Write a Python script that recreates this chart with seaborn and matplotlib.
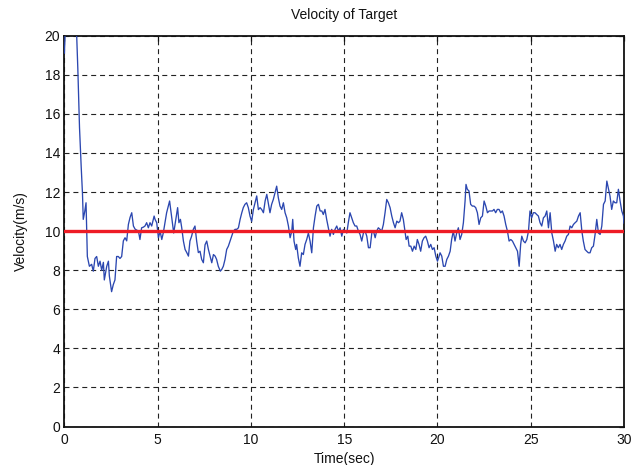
import numpy as np
import pandas as pd
import matplotlib
matplotlib.use("Agg")
import matplotlib.pyplot as plt
import seaborn as sns

# ---- data ----
time = [0.00, 0.09, 0.18, 0.27, 0.36, 0.45, 0.54, 0.63, 0.72, 0.81, 0.90, 0.97, 1.01, 1.09, 1.16, 1.23,
        1.34, 1.46, 1.55, 1.64, 1.73, 1.82, 1.91, 2.00, 2.09, 2.14, 2.27, 2.36, 2.41, 2.53, 2.62, 2.71,
        2.80, 2.89, 2.98, 3.07, 3.16, 3.25, 3.34, 3.43, 3.52, 3.61, 3.70, 3.79, 3.88, 3.97, 4.05, 4.14,
        4.23, 4.32, 4.41, 4.50, 4.59, 4.68, 4.81, 4.86,
        4.95, 5.04, 5.13, 5.22, 5.30, 5.39, 5.48, 5.57, 5.64, 5.72, 5.79, 5.86, 5.93, 6.00, 6.07, 6.14,
        6.22, 6.29, 6.38, 6.47, 6.56, 6.65, 6.73, 6.82, 6.91, 7.00, 7.09, 7.18, 7.27, 7.36, 7.45, 7.54,
        7.63, 7.72, 7.81, 7.90, 7.99, 8.08, 8.16, 8.25, 8.36, 8.43, 8.52, 8.61, 8.70, 8.79, 8.88, 8.97,
        9.06, 9.15, 9.24, 9.33, 9.42, 9.51, 9.59, 9.68, 9.77, 9.86, 9.95,
        10.04, 10.13, 10.22, 10.31, 10.40, 10.49, 10.58, 10.67, 10.76, 10.85, 10.93, 11.02, 11.11, 11.20,
        11.29, 11.38, 11.47, 11.56, 11.65, 11.74, 11.83, 11.92, 12.01, 12.10, 12.19, 12.24, 12.31, 12.40,
        12.45, 12.54, 12.63, 12.72, 12.81, 12.90, 12.99, 13.08, 13.17, 13.26, 13.35, 13.44, 13.53, 13.62,
        13.71, 13.80, 13.88, 13.97, 14.06, 14.15, 14.24, 14.33, 14.42, 14.51, 14.60, 14.69, 14.78, 14.87,
        14.96, 15.05,
        15.14, 15.22, 15.31, 15.40, 15.49, 15.58, 15.67, 15.76, 15.85, 15.94, 16.03, 16.12, 16.21, 16.30,
        16.39, 16.48, 16.57, 16.66, 16.74, 16.83, 16.92, 17.01, 17.10, 17.19, 17.28, 17.37, 17.46, 17.55,
        17.64, 17.73, 17.82, 17.91, 17.99, 18.08, 18.17, 18.26, 18.32, 18.41, 18.48, 18.57, 18.66, 18.75,
        18.84, 18.92, 19.01, 19.10, 19.19, 19.28, 19.37, 19.46, 19.55, 19.64, 19.73, 19.82, 19.91, 20.00,
        20.09,
        20.14, 20.23, 20.32, 20.41, 20.50, 20.59, 20.68, 20.76, 20.85, 20.94, 21.03, 21.12, 21.21, 21.30,
        21.39, 21.48, 21.53, 21.60, 21.69, 21.78, 21.87, 21.96, 22.05, 22.14, 22.23, 22.32, 22.41, 22.50,
        22.59, 22.68, 22.77, 22.86, 22.95, 23.03, 23.12, 23.21, 23.30, 23.39, 23.48, 23.57, 23.66, 23.75,
        23.84, 23.93, 24.02, 24.11, 24.20, 24.29, 24.38, 24.46, 24.52, 24.61, 24.70, 24.79, 24.88, 24.96,
        25.05, 25.14,
        25.23, 25.32, 25.41, 25.50, 25.59, 25.68, 25.77, 25.86, 25.95, 26.04, 26.13, 26.22, 26.31, 26.39,
        26.48, 26.57, 26.66, 26.75, 26.84, 26.93, 27.02, 27.11, 27.20, 27.29, 27.38, 27.47, 27.56, 27.65,
        27.74, 27.82, 27.91, 28.00, 28.09, 28.18, 28.27, 28.36, 28.45, 28.54, 28.63, 28.72, 28.81, 28.90,
        28.99, 29.08, 29.17, 29.25, 29.34, 29.43, 29.52, 29.61, 29.70, 29.79, 29.88, 29.97, 30.00]

speed = [19.1, 21.5, 23.0, 23.5, 23.2, 22.5, 21.6, 20.8, 18.3, 15.3, 13.3, 11.9, 10.6, 11.0, 11.45, 8.7,
         8.2, 8.3, 7.95, 8.6, 8.7, 8.2, 8.46, 8.0, 8.4, 7.5, 8.2, 8.46, 7.7, 6.9, 7.26, 7.5,
         8.7, 8.7, 8.6, 8.7, 9.5, 9.66, 9.5, 10.34, 10.7, 10.94, 10.26, 10.1, 10.05, 10.0, 9.57, 10.17,
         10.2, 10.26, 10.43, 10.17, 10.43, 10.26, 10.77, 10.6,
         10.43, 9.66, 10.0, 9.57, 9.9, 10.43, 10.94, 11.28, 11.54, 10.94, 10.43, 9.9, 10.34, 10.77, 11.2, 10.43,
         10.6, 10.17, 9.49, 9.06, 8.9, 8.72, 9.49, 9.74, 10.09, 10.26, 9.49, 8.9, 8.97, 8.55, 8.38, 9.3,
         9.49, 9.06, 8.72, 8.38, 8.8, 8.72, 8.55, 8.2, 7.95, 8.03, 8.2, 8.55, 9.06, 9.23, 9.49, 9.74,
         10.0, 10.09, 10.09, 10.17, 10.6, 10.94, 11.2, 11.37, 11.45, 11.2, 10.77,
         10.5, 11.1, 11.45, 11.8, 11.1, 11.2, 11.1, 10.94, 11.54, 11.88, 11.45, 10.94, 11.37, 11.62,
         11.97, 12.3, 11.7, 11.28, 11.11, 11.45, 10.94, 10.68, 10.26, 9.66, 10.0, 10.6, 9.49, 9.06,
         9.32, 8.63, 8.2, 8.89, 8.8, 9.32, 9.57, 9.9, 9.49, 8.89, 10.17, 10.77, 11.28, 11.37,
         11.03, 11.03, 10.85, 11.11, 10.6, 10.17, 9.74, 10.09, 9.83, 10.09, 10.26, 10.0, 10.17, 9.74,
         10.09, 10.0,
         9.9, 10.43, 10.94, 10.68, 10.43, 10.26, 10.26, 10.0, 9.83, 9.49, 9.9, 10.0, 9.74, 9.15,
         9.15, 9.9, 10.0, 9.66, 10.0, 10.17, 10.09, 10.0, 10.34, 10.94, 11.62, 11.45, 11.2, 10.77,
         10.43, 10.17, 10.51, 10.43, 10.51, 10.94, 10.6, 10.0, 9.57, 9.74, 9.23, 9.23, 8.97, 9.23,
         9.06, 9.57, 9.32, 8.97, 9.49, 9.66, 9.74, 9.49, 9.15, 9.32, 9.06, 9.15, 8.72, 8.46,
         8.72,
         8.89, 8.72, 8.2, 8.2, 8.55, 8.72, 8.97, 9.57, 10.0, 9.49, 9.9, 10.17, 9.57, 9.83,
         10.43, 11.54, 12.39, 12.14, 12.05, 11.37, 11.28, 11.28, 11.2, 10.94, 10.34, 10.68, 10.77, 11.54,
         11.28, 10.94, 11.03, 11.03, 11.03, 11.11, 10.94, 11.11, 11.11, 10.94, 11.03, 10.77, 10.34, 10.0,
         9.49, 9.57, 9.49, 9.32, 9.15, 8.97, 8.2, 9.32, 9.74, 9.49, 9.4, 9.57, 10.0, 11.03,
         10.68, 10.94,
         10.94, 10.85, 10.77, 10.43, 10.26, 10.68, 10.77, 11.03, 10.17, 10.94, 9.9, 9.49, 8.97, 9.32,
         9.15, 9.32, 9.06, 9.32, 9.49, 9.74, 9.83, 10.26, 10.17, 10.34, 10.43, 10.51, 10.77, 10.94,
         10.0, 9.49, 9.06, 8.97, 8.89, 8.89, 9.15, 9.23, 9.83, 10.6, 9.9, 9.83, 10.26, 11.37,
         11.54, 12.56, 12.14, 11.79, 11.11, 11.54, 11.45, 11.45, 12.14, 11.54, 11.03, 10.77, 10.4]

ref_time = [0, 30]
ref_speed = [10, 10]

x_ticks = [0, 5, 10, 15, 20, 25, 30]
y_ticks = [0, 2, 4, 6, 8, 10, 12, 14, 16, 18, 20]

# ---- style ----
sns.set_theme(style="white")
plt.rcParams["font.family"] = ["Liberation Sans", "DejaVu Sans"]

fig = plt.figure(figsize=(6.31, 4.65), dpi=100)
ax = fig.add_axes([64.4 / 631, 1 - 426.5 / 465, (624 - 64.4) / 631, (426.5 - 35.7) / 465])

df = pd.DataFrame({"t": time, "v": speed})
ref = pd.DataFrame({"t": ref_time, "v": ref_speed})

sns.lineplot(data=df, x="t", y="v", ax=ax, color="#2b47b0", linewidth=0.95,
             estimator=None, sort=False, zorder=3)
sns.lineplot(data=ref, x="t", y="v", ax=ax, color="#ee1c25", linewidth=2.4,
             estimator=None, sort=False, zorder=4)

ax.set_xlim(0, 30)
ax.set_ylim(0, 20)
ax.set_xticks(x_ticks)
ax.set_yticks(y_ticks)
ax.set_xticklabels([str(v) for v in x_ticks])
ax.set_yticklabels([str(v) for v in y_ticks])

ax.grid(True, color="#222222", linestyle=(0, (4.5, 3.5)), linewidth=0.8)
ax.set_axisbelow(True)

for s in ax.spines.values():
    s.set_color("#111111")
    s.set_linewidth(1.3)
    s.set_visible(True)

ax.tick_params(direction="in", length=3.5, width=0.9, top=True, right=True,
               labelsize=10, colors="#111111")
ax.tick_params(axis="x", pad=4.5)
ax.tick_params(axis="y", pad=3)

ax.set_title("Velocity of Target", fontsize=10, color="#111111", pad=12)
ax.set_xlabel("Time(sec)", fontsize=10, color="#111111", labelpad=4)
ax.set_ylabel("Velocity(m/s)", fontsize=10, color="#111111", labelpad=12)

fig.savefig("out.png", dpi=100, facecolor="white")
